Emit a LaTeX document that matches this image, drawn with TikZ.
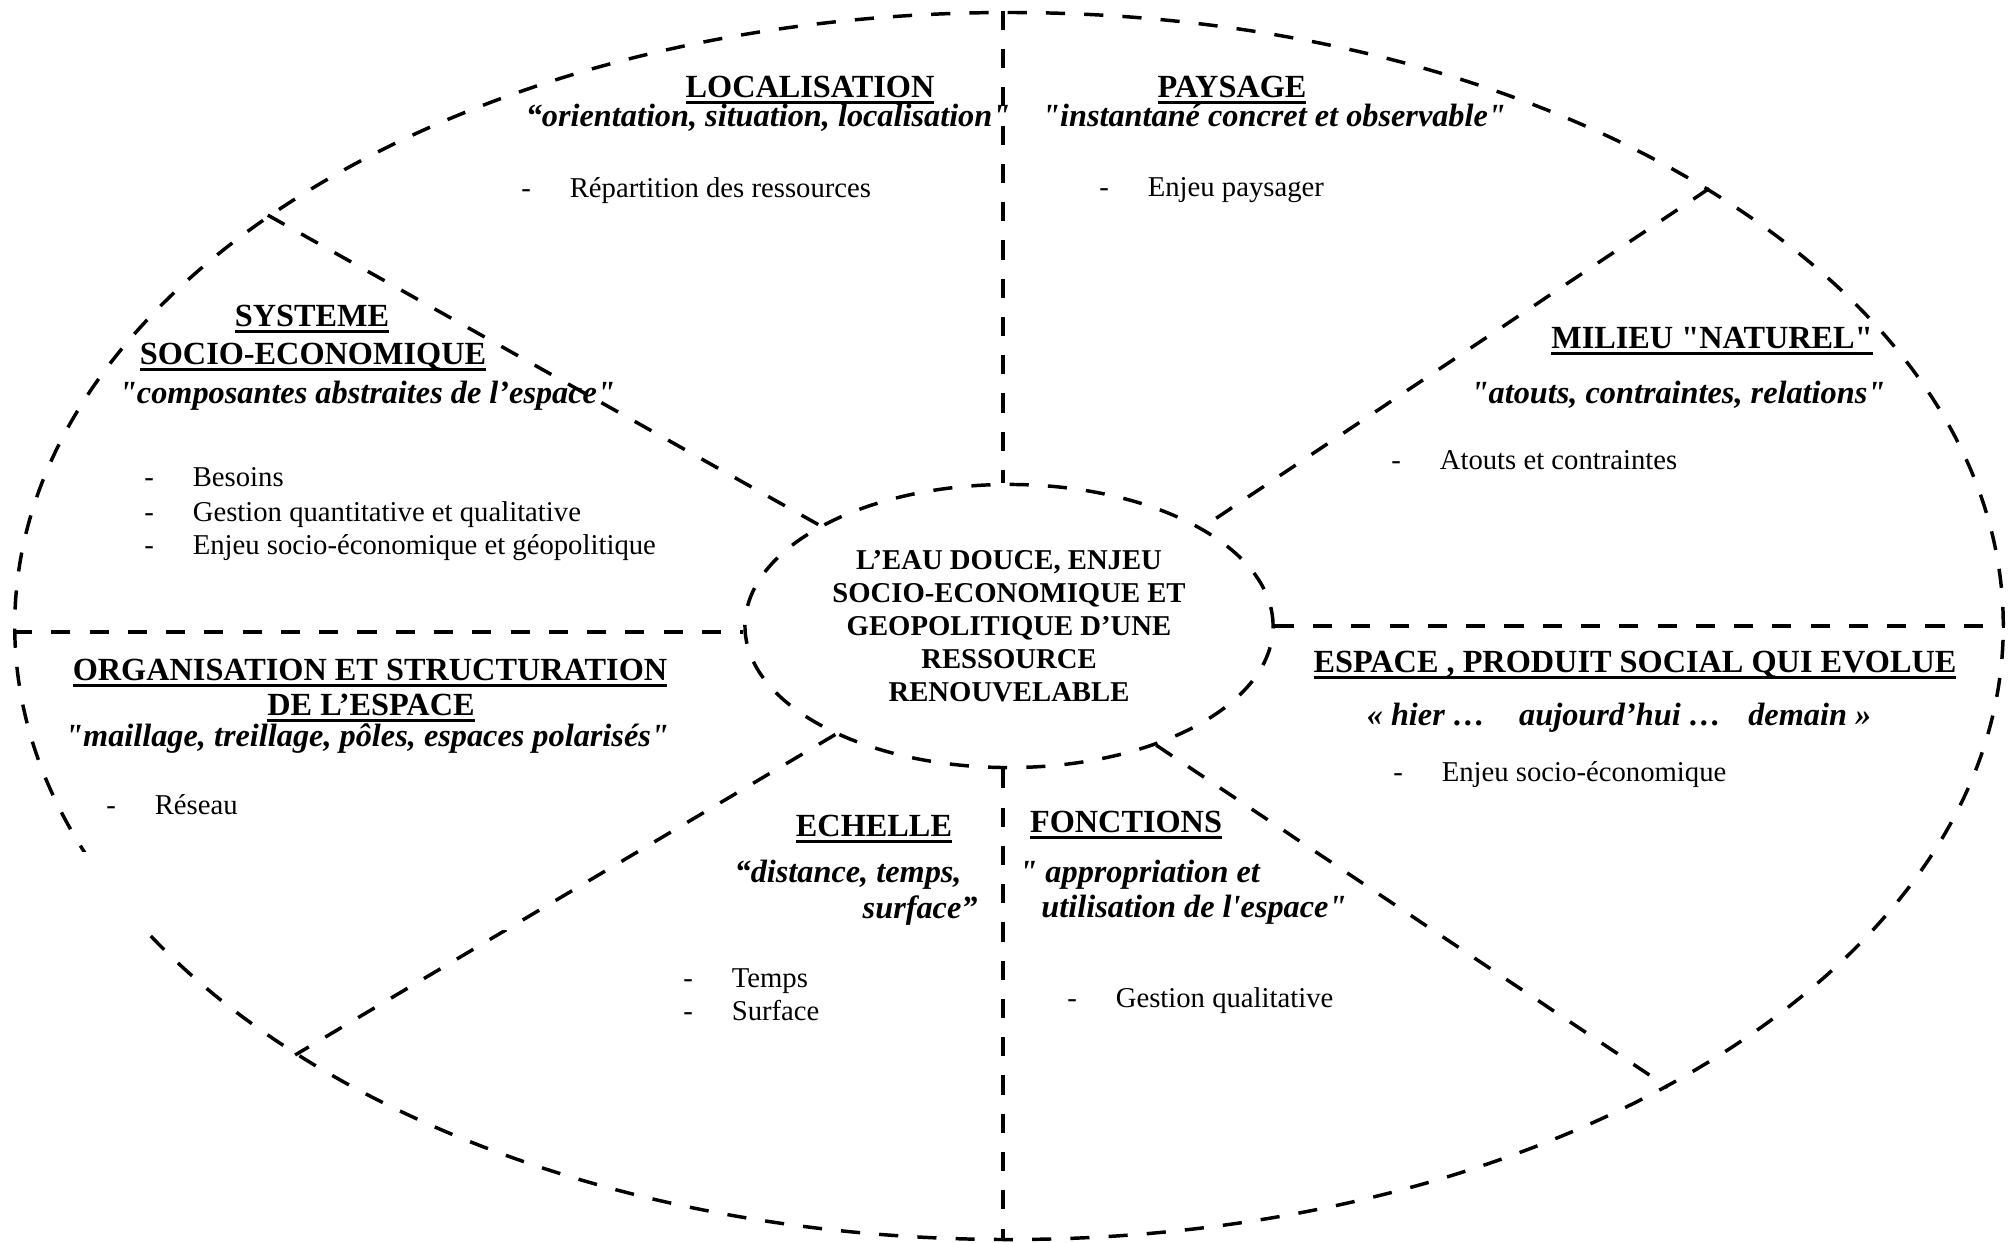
\documentclass[tikz,border=0pt]{standalone}
\usepackage{fontspec}
\setmainfont{Liberation Serif}[Ligatures=TeXOff]
\usetikzlibrary{shapes.geometric,calc}
\newcommand{\souligne}[1]{\setbox0=\hbox{#1}\rlap{\rule[-2.8pt]{\wd0}{1.2pt}}\box0}
\newcommand{\puce}[1]{\makebox[0.71cm][l]{-}#1}

\begin{document}
\begin{tikzpicture}[x=0.0147cm,y=-0.0147cm]
\tikzstyle{every node}+=[inner sep=0pt, font=\fontsize{12}{13.8}\selectfont]
\tikzstyle{trait}=[line width=1.45pt, dash pattern=on 8pt off 8pt]
\tikzstyle{titre}=[anchor=base, font=\fontsize{13.5}{15.5}\selectfont\bfseries]
\tikzstyle{sous}=[anchor=base, font=\fontsize{13.5}{15.5}\selectfont\bfseries\itshape]
\tikzstyle{liste}=[anchor=base west]
\useasboundingbox (0,0) rectangle (2013,1242);
% les deux ellipses
\node [ellipse, draw, trait, minimum width=29.22cm, minimum height=18.03cm] (cadre) at (1009,626) {};
\node [ellipse, draw, trait, minimum width=7.76cm, minimum height=4.16cm, align=center,
  font=\fontsize{12}{13.8}\selectfont\bfseries] (coeur) at (1009,626)
  {L’EAU DOUCE, ENJEU\\SOCIO-ECONOMIQUE ET\\GEOPOLITIQUE D’UNE\\RESSOURCE\\RENOUVELABLE};
% les separations
\draw [trait] ($(cadre.north)+(-6,0)$) -- ($(coeur.north)+(-6,0)$);
\draw [trait] ($(coeur.south)+(-6,0)$) -- ($(cadre.south)+(-6,0)$);
\draw [trait] ($(cadre.west)+(0,6)$) -- ($(coeur.west)+(0,6)$);
\draw [trait] (coeur.east) -- (cadre.east);
\draw [trait] (cadre.151.6) -- (coeur.152.1);
\draw [trait] (cadre.32.1) -- (coeur.27.6);
\draw [trait] (coeur.212.9) -- (cadre.211.1);
\draw [trait] (coeur.321.4) -- (cadre.325.4);
\fill [white] (0,852) rectangle (512,930);
% localisation
\node [titre] (loc) at (810,97) {\souligne{LOCALISATION}};
\node [sous] (locdef) at (768,126) {“orientation, situation, localisation"};
\node [liste] (locA) at (521,197) {\puce{Répartition des ressources}};
% paysage
\node [titre] (pay) at (1232,97) {\souligne{PAYSAGE}};
\node [sous] (paydef) at (1274,126) {"instantané concret et observable"};
\node [liste] (payA) at (1099,196) {\puce{Enjeu paysager}};
% milieu
\node [titre] (mil) at (1712,348) {\souligne{MILIEU "NATUREL"}};
\node [sous] (mildef) at (1678,403) {"atouts, contraintes, relations"};
\node [liste] (milA) at (1391,469) {\puce{Atouts et contraintes}};
% systeme
\node [titre] (sys) at (312,326) {\souligne{SYSTEME}};
\node [titre] (sysb) at (313,364) {\souligne{SOCIO-ECONOMIQUE}};
\node [sous] (sysdef) at (367,403) {"composantes abstraites de l’espace"};
\node [liste] (sysA) at (144,486) {\puce{Besoins}};
\node [liste] (sysB) at (144,521) {\puce{Gestion quantitative et qualitative}};
\node [liste] (sysC) at (144,554) {\puce{Enjeu socio-économique et géopolitique}};
% organisation
\node [titre] (org) at (370,680) {\souligne{ORGANISATION ET STRUCTURATION}};
\node [titre] (orgb) at (371,715) {\souligne{DE L’ESPACE}};
\node [sous] (orgdef) at (367,746) {"maillage, treillage, pôles, espaces polarisés"};
\node [liste] (orgA) at (106,814) {\puce{Réseau}};
% echelle
\node [titre] (ech) at (874,836) {\souligne{ECHELLE}};
\node [sous, anchor=base east] (echdef) at (962,882) {“distance, temps,};
\node [sous, anchor=base east] (echdefb) at (978,918) {surface”};
\node [liste] (echA) at (683,987) {\puce{Temps}};
\node [liste] (echB) at (683,1020) {\puce{Surface}};
% fonctions
\node [titre] (fon) at (1126,832) {\souligne{FONCTIONS}};
\node [sous, anchor=base west] (fondef) at (1019,882) {" appropriation et};
\node [sous, anchor=base west] (fondefb) at (1041,917) {utilisation de l'espace"};
\node [liste] (fonA) at (1067,1007) {\puce{Gestion qualitative}};
% espace
\node [titre] (esp) at (1635,672) {\souligne{ESPACE , PRODUIT SOCIAL QUI EVOLUE}};
\node [sous] (espdef) at (1619,725) {« hier …\hspace{0.5cm}aujourd’hui …\hspace{0.4cm}demain »};
\node [liste] (espA) at (1393,781) {\puce{Enjeu socio-économique}};
\end{tikzpicture}
\end{document}
